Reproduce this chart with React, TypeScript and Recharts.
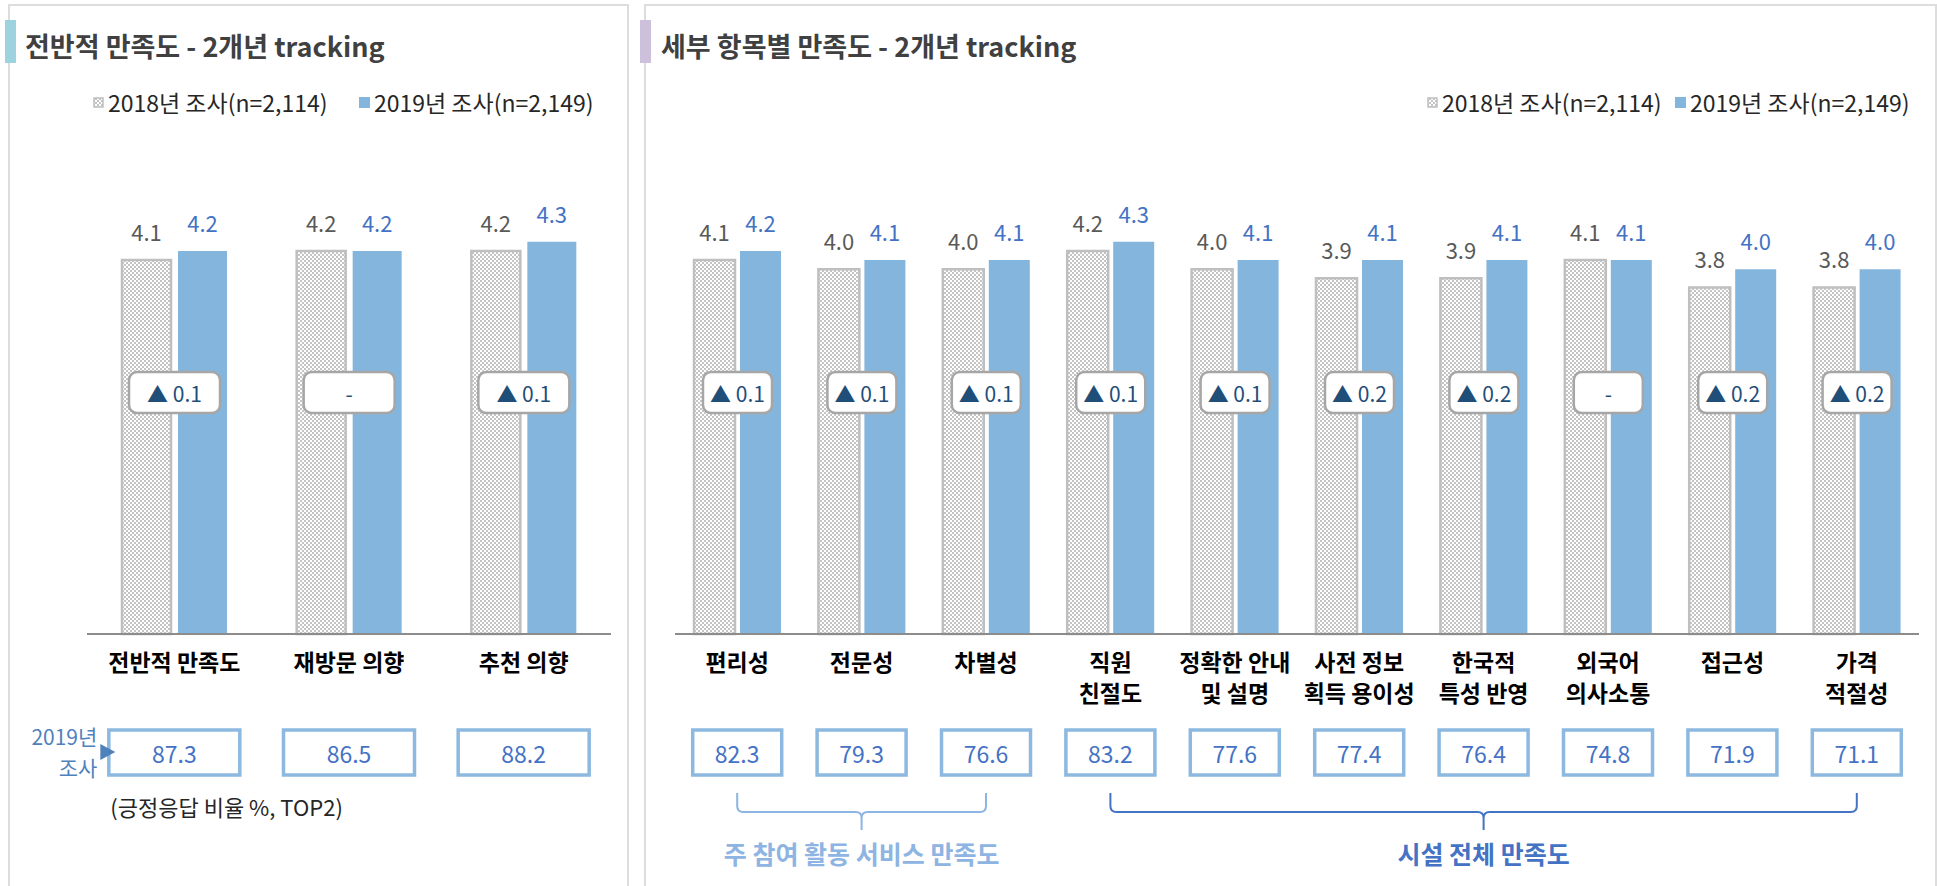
import React from "react";
import { BarChart, Bar, XAxis, YAxis, LabelList } from "recharts";

const FONT = "'Noto Sans CJK KR', 'Noto Sans', sans-serif";

// 전반적 만족도
const OVERALL_CATEGORIES = ["전반적 만족도", "재방문 의향", "추천 의향"];
const OVERALL_2018 = [4.1, 4.2, 4.2];
const OVERALL_2019 = [4.2, 4.2, 4.3];
const OVERALL_DELTA = ["▲ 0.1", "-", "▲ 0.1"];
const OVERALL_TOP2 = [87.3, 86.5, 88.2];

// 세부 항목별 만족도
const DETAIL_CATEGORIES = [
    "편리성",
    "전문성",
    "차별성",
    "직원\n친절도",
    "정확한 안내\n및 설명",
    "사전 정보\n획득 용이성",
    "한국적\n특성 반영",
    "외국어\n의사소통",
    "접근성",
    "가격\n적절성",
];
const DETAIL_2018 = [4.1, 4.0, 4.0, 4.2, 4.0, 3.9, 3.9, 4.1, 3.8, 3.8];
const DETAIL_2019 = [4.2, 4.1, 4.1, 4.3, 4.1, 4.1, 4.1, 4.1, 4.0, 4.0];
const DETAIL_DELTA = ["▲ 0.1", "▲ 0.1", "▲ 0.1", "▲ 0.1", "▲ 0.1", "▲ 0.2", "▲ 0.2", "-", "▲ 0.2", "▲ 0.2"];
const DETAIL_TOP2 = [82.3, 79.3, 76.6, 83.2, 77.6, 77.4, 76.4, 74.8, 71.9, 71.1];

const LEGEND_2018 = "2018년 조사(n=2,114)";
const LEGEND_2019 = "2019년 조사(n=2,149)";

const BRACKETS = [
    { start: 0, mid: 1, end: 2, label: "주 참여 활동 서비스 만족도", color: "#8DB4E2" },
    { start: 3, mid: 6, end: 9, label: "시설 전체 만족도", color: "#4472C4" },
];

const BLUE = "#84B5DC";
const GRAY_BORDER = "#BFBFBF";

const toRows = (cats: string[], a: number[], b: number[]) =>
    cats.map((name, i) => ({ name, y2018: a[i], y2019: b[i] }));

const DeltaBox = (deltas: string[], boxW: number, gap: number) => (props: any) => {
    const vb = props.viewBox || props;
    const x = Number(vb.x ?? props.x);
    const y = Number(vb.y ?? props.y);
    const h = Number(vb.height ?? props.height);
    const i = props.index;
    const cx = x - gap / 2;
    const cy = y + h - 242;
    return (
        <g key={`delta-${i}`}>
            <rect x={cx - boxW / 2} y={cy - 20} width={boxW} height={41} rx={8}
                fill="#fff" stroke="#A6A6A6" strokeWidth={2.5} />
            <text x={cx} y={cy + 1} textAnchor="middle" dominantBaseline="central"
                fill="#1F4E79" fontSize={21} fontFamily={FONT}>{deltas[i]}</text>
        </g>
    );
};

const CategoryTick = (top2: number[], boxW: number, opts: { note?: boolean; band?: number }) => (props: any) => {
    const { x, y, payload } = props;
    const i = payload?.index ?? props.index;
    const lines = String(payload.value).split("\n");
    return (
        <g>
            <text x={x} y={y + 27} textAnchor="middle" dominantBaseline="central"
                fontSize={23} fontWeight={700} fill="#000" fontFamily={FONT}>
                {lines.map((ln, k) => (
                    <tspan key={k} x={x} dy={k === 0 ? 0 : 31}>{ln}</tspan>
                ))}
            </text>
            <rect x={x - boxW / 2} y={y + 96} width={boxW} height={45}
                fill="#fff" stroke="#8DB9E0" strokeWidth={3.5} />
            <text x={x} y={y + 119} textAnchor="middle" dominantBaseline="central"
                fontSize={23} fill="#4472C4" fontFamily={FONT}>{top2[i].toFixed(1)}</text>
            {opts.note && i === 0 && (
                <g>
                    <text x={x - 77} y={y + 102} textAnchor="end" dominantBaseline="central"
                        fontSize={21} fill="#4F81BD" fontFamily={FONT}>
                        <tspan x={x - 77}>2019년</tspan>
                        <tspan x={x - 77} dy={31}>조사</tspan>
                    </text>
                    <path d={`M${x - 74},${y + 110} L${x - 59},${y + 118} L${x - 74},${y + 126} Z`} fill="#4F81BD" />
                    <text x={x - 64} y={y + 172} textAnchor="start" dominantBaseline="central"
                        fontSize={22} fill="#262626" fontFamily={FONT}>(긍정응답 비율 %, TOP2)</text>
                </g>
            )}
            {opts.band && BRACKETS.filter((b) => b.mid === i).map((b) => {
                const x0 = x - (b.mid - b.start) * opts.band!;
                const x1 = x + (b.end - b.mid) * opts.band!;
                const t = y + 159, m = y + 178, e = y + 196;
                const d = `M${x0},${t} V${m - 6} Q${x0},${m} ${x0 + 6},${m} H${x - 6} Q${x},${m} ${x},${m + 6} V${e}` +
                    ` M${x},${m + 6} Q${x},${m} ${x + 6},${m} H${x1 - 6} Q${x1},${m} ${x1},${m - 6} V${t}`;
                return (
                    <g key={b.label}>
                        <path d={d} fill="none" stroke={b.color} strokeWidth={2} />
                        <text x={x} y={y + 219} textAnchor="middle" dominantBaseline="central"
                            fontSize={25} fontWeight={700} fill={b.color} fontFamily={FONT}>{b.label}</text>
                    </g>
                );
            })}
        </g>
    );
};

function SatisfactionChart(props: {
    cats: string[]; a: number[]; b: number[]; deltas: string[]; top2: number[];
    width: number; left: number; right: number; barSize: number; gap: number;
    deltaW: number; boxW: number; note?: boolean; brackets?: boolean;
}) {
    const { cats, a, b, deltas, top2, width, left, right, barSize, gap, deltaW, boxW } = props;
    const data = toRows(cats, a, b);
    const band = (width - left - right) / cats.length;
    return (
        <BarChart width={width} height={886} data={data} barSize={barSize} barGap={gap}
            margin={{ top: 178, right, left, bottom: 52 }}>
            <XAxis dataKey="name" height={200} interval={0} tickLine={false} tickSize={0} tickMargin={0}
                axisLine={{ stroke: "#8C8C8C", strokeWidth: 2 }}
                tick={CategoryTick(top2, boxW, { note: props.note, band: props.brackets ? band : undefined })} />
            <YAxis hide domain={[0, 5]} />
            <Bar dataKey="y2018" fill="url(#chk)" stroke={GRAY_BORDER} strokeWidth={2.5} isAnimationActive={false}>
                <LabelList dataKey="y2018" position="top" offset={19} fill="#595959" fontSize={22}
                    fontFamily={FONT} formatter={(v: any) => Number(v).toFixed(1)} />
            </Bar>
            <Bar dataKey="y2019" fill={BLUE} isAnimationActive={false}>
                <LabelList dataKey="y2019" position="top" offset={19} fill="#4472C4" fontSize={22}
                    fontFamily={FONT} formatter={(v: any) => Number(v).toFixed(1)} />
                <LabelList dataKey="y2019" content={DeltaBox(deltas, deltaW, gap)} />
            </Bar>
        </BarChart>
    );
}

function LegendItem({ x, label, solid }: { x: number; label: string; solid?: boolean }) {
    return (
        <div style={{ position: "absolute", left: x, top: 88, height: 28, display: "flex", alignItems: "center" }}>
            <svg width={12} height={12} style={{ marginRight: 3 }}>
                {solid ? <rect x={0} y={1} width={11} height={11} fill={BLUE} />
                    : <rect x={1} y={2} width={9} height={9} fill="url(#chk)" stroke={GRAY_BORDER} strokeWidth={1.5} />}
            </svg>
            <span style={{ fontSize: 23, color: "#262626", whiteSpace: "nowrap" }}>{label}</span>
        </div>
    );
}

function Title({ x, barX, text, color }: { x: number; barX: number; text: string; color: string }) {
    return (
        <>
            <div style={{ position: "absolute", left: barX, top: 20, width: 11, height: 43, background: color }} />
            <div style={{ position: "absolute", left: x, top: 26, fontSize: 27, fontWeight: 700, color: "#404040", whiteSpace: "nowrap", lineHeight: "40px" }}>
                {text}
            </div>
        </>
    );
}

export default function App() {
    return (
        <div style={{ position: "relative", width: 1937, height: 886, background: "#fff", overflow: "hidden", fontFamily: FONT }}>
            <style>{"body{margin:0}"}</style>
            <svg width={0} height={0} style={{ position: "absolute" }}>
                <defs>
                    <pattern id="chk" width={4} height={4} patternUnits="userSpaceOnUse">
                        <rect width={4} height={4} fill="#fff" />
                        <rect width={2} height={2} fill="#C4C4C4" />
                        <rect x={2} y={2} width={2} height={2} fill="#C4C4C4" />
                    </pattern>
                </defs>
            </svg>

            <div style={{ position: "absolute", left: 8, top: 4, width: 617, height: 900, border: "2px solid #DDDDDD" }} />
            <div style={{ position: "absolute", left: 644, top: 4, width: 1289, height: 900, border: "2px solid #DDDDDD" }} />

            <Title x={25} barX={5} text="전반적 만족도 - 2개년 tracking" color="#9DD3DE" />
            <Title x={661} barX={640} text="세부 항목별 만족도 - 2개년 tracking" color="#CCC0DA" />

            <LegendItem x={93} label={LEGEND_2018} />
            <LegendItem x={359} label={LEGEND_2019} solid />
            <LegendItem x={1427} label={LEGEND_2018} />
            <LegendItem x={1675} label={LEGEND_2019} solid />

            <div style={{ position: "absolute", left: 0, top: 0 }}>
                <SatisfactionChart cats={OVERALL_CATEGORIES} a={OVERALL_2018} b={OVERALL_2019}
                    deltas={OVERALL_DELTA} top2={OVERALL_TOP2} width={640} left={87} right={29}
                    barSize={49} gap={7} deltaW={91} boxW={131} note />
            </div>
            <div style={{ position: "absolute", left: 640, top: 0 }}>
                <SatisfactionChart cats={DETAIL_CATEGORIES} a={DETAIL_2018} b={DETAIL_2019}
                    deltas={DETAIL_DELTA} top2={DETAIL_TOP2} width={1297} left={35} right={18}
                    barSize={41} gap={5} deltaW={69} boxW={89} brackets />
            </div>
        </div>
    );
}
